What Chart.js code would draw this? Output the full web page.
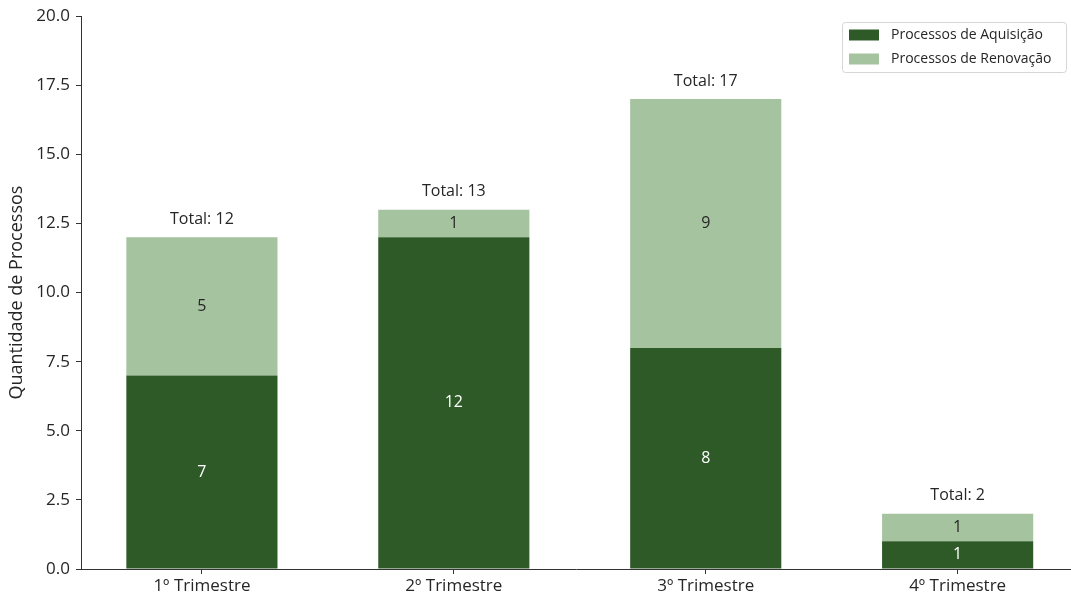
<!DOCTYPE html>
<html>
<head>
<meta charset="utf-8">
<script src="https://cdn.jsdelivr.net/npm/chart.js@4/dist/chart.umd.min.js"></script>
<style>
html,body{margin:0;padding:0;background:#fff;}
#wrap{width:1071px;height:601px;position:relative;}
</style>
</head>
<body>
<div id="wrap"><canvas id="c" width="1071" height="601"></canvas></div>
<script>
const categories = ["1º Trimestre", "2º Trimestre", "3º Trimestre", "4º Trimestre"];
const aquisicao = [7, 12, 8, 1];
const renovacao = [5, 1, 9, 1];
const seriesNames = ["Processos de Aquisição", "Processos de Renovação"];
const yTicks = [0, 2.5, 5, 7.5, 10, 12.5, 15, 17.5, 20];

const DARK = '#2e5a28';
const LIGHT = '#a6c3a0';
const FONT = '"Open Sans", Roboto, sans-serif';
const TXT = '#262626';

const labelPlugin = {
  id: 'labels',
  afterDatasetsDraw(chart) {
    const ctx = chart.ctx;
    ctx.save();
    ctx.font = '16px ' + FONT;
    ctx.textAlign = 'center';
    ctx.textBaseline = 'middle';
    chart.data.datasets.forEach((ds, di) => {
      const meta = chart.getDatasetMeta(di);
      meta.data.forEach((bar, i) => {
        const v = ds.data[i].y;
        ctx.fillStyle = di === 0 ? '#ffffff' : TXT;
        ctx.fillText(String(v), bar.x, (bar.y + bar.base) / 2);
      });
    });
    const top = chart.getDatasetMeta(chart.data.datasets.length - 1);
    top.data.forEach((bar, i) => {
      const total = aquisicao[i] + renovacao[i];
      ctx.fillStyle = TXT;
      ctx.fillText('Total: ' + total, bar.x, bar.y - 18);
    });
    ctx.restore();
  }
};

const legendPlugin = {
  id: 'customLegend',
  afterDraw(chart) {
    const ctx = chart.ctx;
    ctx.save();
    const x0 = 842, y0 = 22, w = 224, h = 50;
    ctx.fillStyle = 'rgba(255,255,255,0.85)';
    ctx.strokeStyle = '#d6d6d6';
    ctx.lineWidth = 1;
    ctx.beginPath();
    ctx.roundRect(x0 + 0.5, y0 + 0.5, w, h, 3);
    ctx.fill();
    ctx.stroke();
    ctx.font = '14px ' + FONT;
    ctx.textBaseline = 'middle';
    ctx.textAlign = 'left';
    chart.data.datasets.forEach((ds, i) => {
      const cy = y0 + 13 + i * 24;
      ctx.fillStyle = ds.backgroundColor;
      ctx.fillRect(x0 + 7, cy - 5.5, 30, 11);
      ctx.fillStyle = TXT;
      ctx.fillText(ds.label, x0 + 49, cy);
    });
    ctx.restore();
  }
};

const bgPlugin = {
  id: 'bg',
  beforeDraw(chart) {
    const ctx = chart.ctx;
    ctx.save();
    ctx.fillStyle = '#fff';
    ctx.fillRect(0, 0, chart.width, chart.height);
    ctx.restore();
  }
};

new Chart(document.getElementById('c'), {
  type: 'bar',
  data: {
    datasets: [
      {
        label: seriesNames[0],
        data: aquisicao.map((v, i) => ({ x: i, y: v })),
        backgroundColor: DARK,
        categoryPercentage: 1,
        barPercentage: 0.6
      },
      {
        label: seriesNames[1],
        data: renovacao.map((v, i) => ({ x: i, y: v })),
        backgroundColor: LIGHT,
        categoryPercentage: 1,
        barPercentage: 0.6
      }
    ]
  },
  options: {
    responsive: false,
    animation: false,
    devicePixelRatio: 1,
    layout: { padding: { top: 16, right: 0, left: 0, bottom: 0 } },
    plugins: {
      legend: { display: false },
      tooltip: { enabled: false }
    },
    scales: {
      x: {
        type: 'linear',
        stacked: true,
        min: -0.48,
        max: 3.45,
        offset: false,
        afterBuildTicks(scale) {
          scale.ticks = categories.map((c, i) => ({ value: i }));
        },
        afterFit(scale) { scale.height = 32; },
        ticks: {
          autoSkip: false,
          maxRotation: 0,
          padding: 2,
          color: TXT,
          font: { family: FONT, size: 17 },
          callback: (v) => categories[v]
        },
        grid: { offset: false, drawOnChartArea: false, drawTicks: true, tickLength: 5, color: '#333', tickWidth: 1 },
        border: { display: true, color: '#333', width: 1 }
      },
      y: {
        stacked: true,
        min: 0,
        max: 20,
        afterBuildTicks(scale) {
          scale.ticks = yTicks.map(v => ({ value: v }));
        },
        afterFit(scale) { scale.width = 81; },
        title: {
          display: true,
          text: 'Quantidade de Processos',
          color: TXT,
          font: { family: FONT, size: 18 },
          padding: { top: 6, bottom: 0 }
        },
        ticks: {
          padding: 6,
          color: TXT,
          font: { family: FONT, size: 17 },
          callback: (v) => Number(v).toFixed(1)
        },
        grid: { drawOnChartArea: false, drawTicks: true, tickLength: 5, color: '#333', tickWidth: 1 },
        border: { display: true, color: '#333', width: 1 }
      }
    }
  },
  plugins: [bgPlugin, labelPlugin, legendPlugin]
});
</script>
</body>
</html>
